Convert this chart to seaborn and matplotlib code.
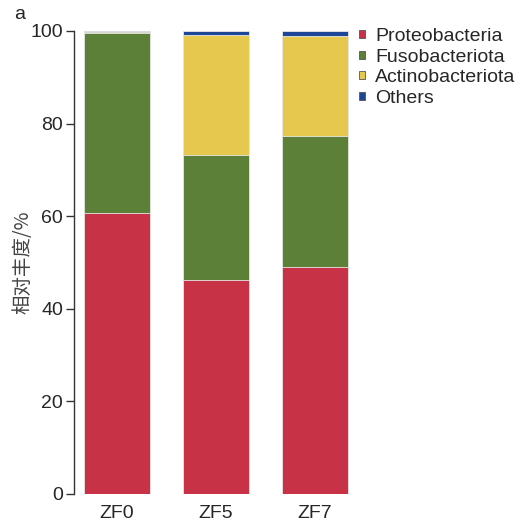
import numpy as np
import pandas as pd
import matplotlib
matplotlib.use("Agg")
import matplotlib.pyplot as plt
from matplotlib.patches import Patch
import seaborn as sns

# samples and phylum abundances (%)
samples = ["ZF0", "ZF5", "ZF7"]
phyla = ["Proteobacteria", "Fusobacteriota", "Actinobacteriota", "Others"]
proteobacteria = [60.7, 46.2, 49.0]
fusobacteriota = [38.8, 27.0, 28.3]
actinobacteriota = [0.3, 25.9, 21.6]
others = [0.2, 0.9, 1.1]
colors = ["#C83246", "#5D8039", "#E6C84E", "#1E4696"]

sns.set_style("ticks")
plt.rcParams["font.family"] = ["Liberation Sans", "DejaVu Sans"]

df = pd.DataFrame({
    "sample": samples,
    "Proteobacteria": proteobacteria,
    "Fusobacteriota": fusobacteriota,
    "Actinobacteriota": actinobacteriota,
    "Others": others,
})
cum = df[phyla].cumsum(axis=1)

fig = plt.figure(figsize=(5.26, 5.24), dpi=100)
ax = fig.add_axes([0.1407, 0.0573, 0.534, 0.8836])

# draw cumulative totals from the top layer down so each stack shows through
for name, col in reversed(list(zip(phyla, colors))):
    sns.barplot(x=df["sample"], y=cum[name], color=col, width=0.667,
                edgecolor="#e8e8e8", linewidth=0.6, saturation=1, ax=ax)

ax.set_xlim(-0.434, 2.404)
ax.set_ylim(0, 100)
ax.set_yticks([0, 20, 40, 60, 80, 100])
ax.tick_params(axis="y", labelsize=14, length=6, width=1, pad=2,
               direction="out", color="#333333")
ax.tick_params(axis="x", labelsize=14, length=0, pad=8)
ax.set_xlabel("")
ax.set_ylabel("相对丰度/%", fontsize=14, color="#444444",
              family=["Noto Sans CJK SC", "DejaVu Sans"])
ax.yaxis.set_label_coords(-0.146, 0.5)
sns.despine(ax=ax, bottom=True)
ax.spines["left"].set_color("#333333")
ax.spines["left"].set_linewidth(1)

handles = [Patch(facecolor=c, edgecolor="#555555", linewidth=0.6) for c in colors]
fig.legend(handles, phyla, loc="upper left", bbox_to_anchor=(0.668, 0.962),
           frameon=False, fontsize=14, handlelength=0.32, handleheight=0.25,
           handletextpad=0.5, labelspacing=0.2, borderaxespad=0)

fig.text(0.038, 0.973, "a", fontsize=14, va="center", ha="center")

fig.savefig("out.png", dpi=100)
